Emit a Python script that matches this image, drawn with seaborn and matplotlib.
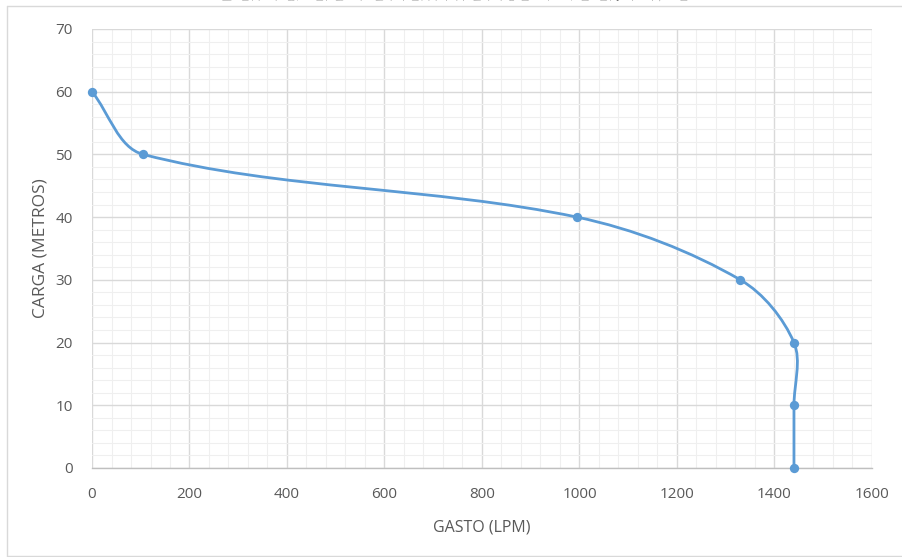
import numpy as np
import matplotlib
matplotlib.use("Agg")
import matplotlib.pyplot as plt
import seaborn as sns
import pandas as pd
from matplotlib.path import Path
from matplotlib.patches import PathPatch
from matplotlib.ticker import MultipleLocator

gasto = [0, 105, 995, 1330, 1440, 1440, 1440]
carga = [60, 50, 40, 30, 20, 10, 0]
title = "Curva de rendimiento Mod. A70"
xlabel = "GASTO (LPM)"
ylabel = "CARGA (METROS)"

df = pd.DataFrame({"gasto": gasto, "carga": carga})

sns.set_theme(style="white")
plt.rcParams['font.family'] = ['Open Sans', 'DejaVu Sans']

blue = "#5B9BD5"
fig = plt.figure(figsize=(9.02, 5.57), dpi=100)
ax = fig.add_axes([0.102, 0.1598, 0.8647, 0.7882])
ax.set_xlim(0, 1600)
ax.set_ylim(0, 70)

# smoothed line (chord-weighted cardinal Bezier, computed in display space)
pts_d = ax.transData.transform(np.column_stack([gasto, carga]).astype(float))
n = len(pts_d)
tang = []
for i in range(n):
    a = pts_d[max(i - 1, 0)]
    b = pts_d[min(i + 1, n - 1)]
    tang.append((b - a) / 2.0)
verts = [tuple(pts_d[0])]
codes = [Path.MOVETO]
for i in range(n - 1):
    p1, p2 = pts_d[i], pts_d[i + 1]
    seg = np.linalg.norm(p2 - p1)
    if i == 0:
        c1 = p1 + (p2 - p1) / 3.0
    else:
        prev = np.linalg.norm(p1 - pts_d[i - 1])
        c1 = p1 + tang[i] * (seg / (seg + prev)) * 2.0 / 3.0
    if i + 1 == n - 1:
        c2 = p2 - (p2 - p1) / 3.0
    else:
        nxt = np.linalg.norm(pts_d[i + 2] - p2)
        c2 = p2 - tang[i + 1] * (seg / (seg + nxt)) * 2.0 / 3.0
    verts += [tuple(c1), tuple(c2), tuple(p2)]
    codes += [Path.CURVE4] * 3
verts_data = ax.transData.inverted().transform(np.array(verts))
ax.add_patch(PathPatch(Path(verts_data, codes), facecolor="none", edgecolor=blue,
                       lw=2.0, zorder=3, capstyle="round"))

sns.scatterplot(data=df, x="gasto", y="carga", ax=ax, color=blue, s=45,
                edgecolor=blue, linewidth=0, zorder=4, legend=False, clip_on=False)

ax.set_xlim(0, 1600)
ax.set_ylim(0, 70)
ax.xaxis.set_major_locator(MultipleLocator(200))
ax.yaxis.set_major_locator(MultipleLocator(10))
ax.xaxis.set_minor_locator(MultipleLocator(40))
ax.yaxis.set_minor_locator(MultipleLocator(2))
ax.grid(which="major", color="#d9d9d9", lw=1.0)
ax.grid(which="minor", color="#efefef", lw=0.8)
ax.set_axisbelow(True)
for s in ["top", "right", "left"]:
    ax.spines[s].set_visible(False)
ax.spines["bottom"].set_color("#bfbfbf")
ax.spines["bottom"].set_linewidth(1.0)
ax.tick_params(axis="both", which="both", length=0, labelsize=11,
               labelcolor="#595959")
ax.tick_params(axis="x", pad=14)
ax.tick_params(axis="y", pad=14)
ax.set_xlabel(xlabel, fontsize=11.5, color="#595959", labelpad=12)
ax.set_ylabel(ylabel, fontsize=12.5, color="#595959", labelpad=5)

# chart border and cut-off title
fig.add_artist(plt.Line2D([0.0078, 1.0], [0.989, 0.989], color="#d9d9d9", lw=1.0))
fig.add_artist(plt.Line2D([0.0078, 0.0078], [0.989, 0.002], color="#d9d9d9", lw=1.0))
fig.add_artist(plt.Line2D([0.0078, 1.0], [0.002, 0.002], color="#d9d9d9", lw=1.0))
fig.text(0.503, 0.9985, title, ha="center", va="baseline", fontsize=25,
         color="#6f6f6f", family=["Lato", "DejaVu Sans"], fontweight="light")

fig.savefig("out.png", dpi=100)
